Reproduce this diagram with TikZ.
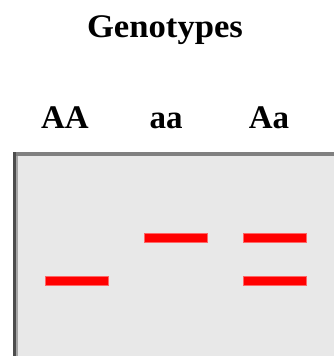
\documentclass[tikz,border=0pt]{standalone}
\usepackage{fontspec}
\setmainfont{Liberation Serif}
\definecolor{gelfill}{HTML}{E8E8E8}
\definecolor{geltop}{HTML}{808080}
\definecolor{gelleft}{HTML}{4D4D4D}
\definecolor{bandred}{HTML}{FF0000}
\begin{document}
\begin{tikzpicture}[x=1pt,y=-1pt,
  lbl/.style={font=\bfseries\fontsize{33}{38}\selectfont, inner sep=0pt, anchor=base},
  band/.style={fill=bandred, draw=bandred!60, line width=1pt, minimum width=63pt, minimum height=9pt, inner sep=0pt}]
\useasboundingbox (0,0) rectangle (334,356);
% gel
\fill[gelfill] (15,154) rectangle (340,360);
\draw[geltop, line width=4pt] (13,154) -- (340,154);
\draw[gelleft, line width=3pt] (14.5,152) -- (14.5,360);
\draw[gray!70, line width=2pt] (17,156) -- (17,360);
% labels
\node[lbl, xscale=1.05] (title) at (165,37) {Genotypes};
\node[lbl] (AA) at (65,128) {AA};
\node[lbl] (aa) at (166,128) {aa};
\node[lbl] (Aa) at (269,128) {Aa};
% bands
\node[band] (b1) at (77,281) {};
\node[band] (b2) at (176,238) {};
\node[band] (b3) at (275,238) {};
\node[band] (b4) at (275,281) {};
\end{tikzpicture}
\end{document}
